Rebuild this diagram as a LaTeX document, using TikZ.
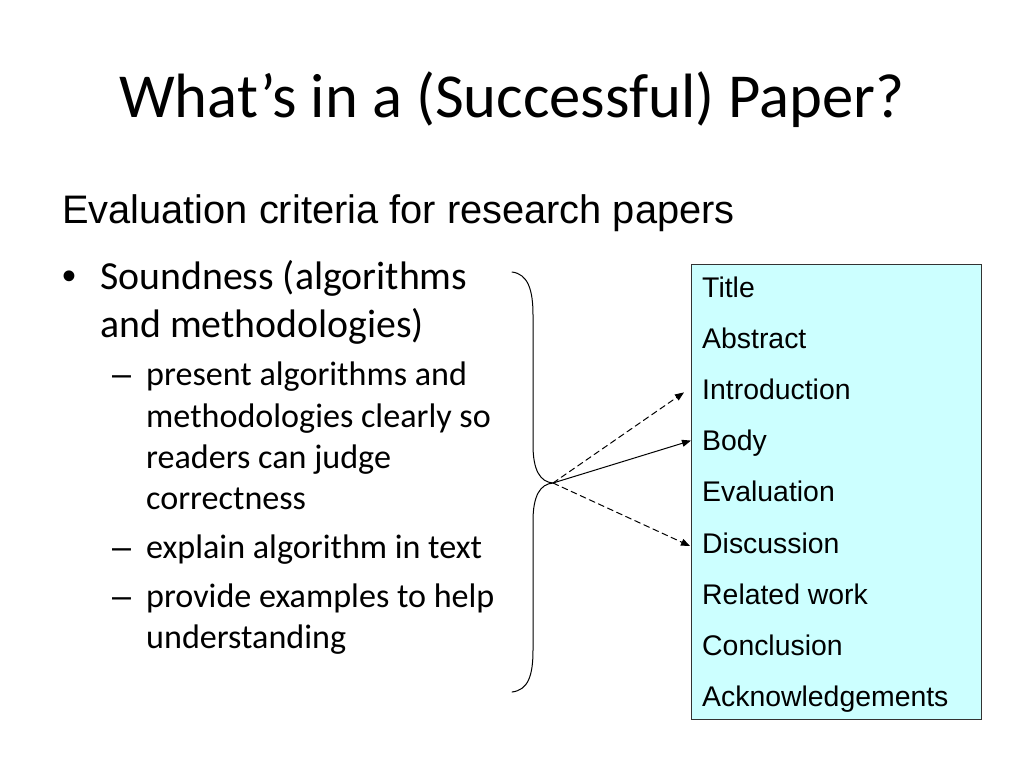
\documentclass[tikz,border=0pt]{standalone}
\usepackage{fontspec}
\setmainfont{Carlito}
\newfontfamily\arialfont{Liberation Sans}
\usetikzlibrary{arrows.meta}

\begin{document}
\begin{tikzpicture}
		[x=1pt,y=-1pt,line cap=round,
		%Styles
		title text/.style={anchor=base,inner sep=0pt,font=\fontsize{62.6}{75}\selectfont},
		heading text/.style={anchor=base west,inner sep=0pt,font=\arialfont\fontsize{39.8}{48}\selectfont},
		level one/.style={anchor=base west,inner sep=0pt,font=\fontsize{39.8}{48}\selectfont},
		level two/.style={anchor=base west,inner sep=0pt,font=\fontsize{34.1}{41}\selectfont},
		section text/.style={anchor=base west,inner sep=0pt,font=\arialfont\fontsize{28.4}{34}\selectfont},
		brace line/.style={line width=1pt},
		pointer/.style={line width=1pt,-{Triangle[length=9pt,width=7pt]}},
		maybe pointer/.style={pointer,dash pattern=on 6pt off 4pt}
		]
		
		%Colors
		\definecolor{boxfill}{HTML}{CCFFFF}
		\definecolor{boxline}{HTML}{333333}
		
		%The graphic
		\useasboundingbox[fill=white] (0,0) rectangle (1024,768);
		
		\node[title text] (title) at (512,117) {What’s in a (Successful) Paper?};
		\node[heading text] (heading) at (62,223) {Evaluation criteria for research papers};
		
		%bullet list
		\node[level one,font=\arialfont\fontsize{39.8}{48}\selectfont] (dot) at (62,289) {•};
		\foreach \y/\t [count=\i] in {289/{Soundness (algorithms}, 337/{and methodologies)}}
			\node[level one] (one-\i) at (100,\y) {\t};
		\foreach \y in {385,558,607}
			\node[level two,font=\arialfont\fontsize{34.1}{41}\selectfont] at (112,\y) {–};
		\foreach \y/\t [count=\i] in {385/{present algorithms and}, 427/{methodologies clearly so},
				468/{readers can judge}, 509/{correctness}, 558/{explain algorithm in text},
				607/{provide examples to help}, 648/{understanding}}
			\node[level two] (two-\i) at (146,\y) {\t};
		
		%section box
		\node[draw=boxline,fill=boxfill,line width=1pt,anchor=north west,
			minimum width=290,minimum height=455,inner sep=0pt] (toc) at (691,264) {};
		\foreach \s [count=\i] in {Title,Abstract,Introduction,Body,Evaluation,
				Discussion,Related work,Conclusion,Acknowledgements}
			\node[section text] (sec-\i) at (702,{297+51.2*(\i-1)}) {\s};
		
		%brace
		\coordinate (tip) at (553,483);
		\draw[brace line] (512,272) .. controls (528,274) and (533,290) .. (533,315)
			-- (533,445) .. controls (533,470) and (540,482) .. (tip)
			.. controls (540,484) and (533,496) .. (533,521)
			-- (533,650) .. controls (533,676) and (528,690) .. (512,692);
		
		\draw[maybe pointer] (tip) -- ([shift={(-18,-7)}]sec-3.base west);
		\draw[pointer] (tip) -- ([shift={(-11,-10)}]sec-4.base west);
		\draw[maybe pointer] (tip) -- ([shift={(-12,-7)}]sec-6.base west);
	\end{tikzpicture}
\end{document}
